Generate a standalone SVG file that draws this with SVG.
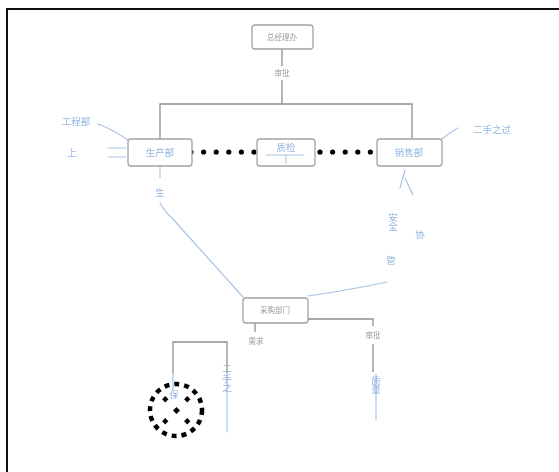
<svg xmlns="http://www.w3.org/2000/svg" width="559" height="472" viewBox="0 0 559 472">
  <style>
    .box { fill: #ffffff; stroke: #a3a3a3; stroke-width: 1.3; }
    .wire { fill: none; stroke: #8f8f8f; stroke-width: 1.3; }
    .ink { fill: none; stroke: #a9c3e6; stroke-width: 1.2; stroke-linecap: round; }
    .lbl { font-family: "Noto Sans CJK SC", "Noto Sans", sans-serif; font-size: 7.5px; fill: #9a9a9a; text-anchor: middle; }
    .hand { font-family: "Noto Sans CJK SC", "Noto Sans", sans-serif; font-size: 9.5px; fill: #93b6e2; text-anchor: middle; }
    .dots { fill: none; stroke: #000000; stroke-width: 5.2; stroke-linecap: round; stroke-dasharray: 0 12.6; }
  </style>
  <defs>
    <filter id="soft" x="-10%" y="-10%" width="120%" height="120%">
      <feGaussianBlur stdDeviation="0.55"/>
    </filter>
  </defs>

  <rect x="0" y="0" width="559" height="472" fill="#ffffff"/>
  <!-- page frame -->
  <rect x="7" y="9" width="560" height="470" fill="none" stroke="#111111" stroke-width="2"/>

  <g filter="url(#soft)">
    <!-- connectors -->
    <g id="connectors">
      <path class="wire" d="M282 49 V66 M282 80 V104"/>
      <path class="wire" d="M160 139 V104 H412 V139"/>
      <path class="wire" d="M255 323 V332"/>
      <path class="wire" d="M308 319 H373 V326 M373 344 V372"/>
      <path class="wire" d="M173 373 V342 H227 V373"/>
      <path class="dots" d="M191 152 H256"/>
      <path class="dots" d="M320 152 H372"/>
      <!-- handwritten links -->
      <path class="ink" d="M160 167 V178 M160 203 Q165 212 172 218 L243 297"/>
      <path class="ink" d="M405 170 L400 188 M405 178 L413 195 M387 282 Q350 290 308 296"/>
      <path class="ink" d="M98 124 Q110 128 128 140 M108 148 H126 M108 157 H126"/>
      <path class="ink" d="M442 139 Q450 132 458 128"/>
      <path class="ink" d="M173 373 V390 M227 373 V432"/>
      <path class="ink" d="M376 374 V420"/>
    </g>

    <g id="top-node">
      <rect class="box" x="252" y="25" width="61" height="24" rx="3"/>
      <text class="lbl" x="282" y="40">总经理办</text>
      <text class="lbl" x="282" y="76" font-size="7">审批</text>
    </g>

    <g id="left-node">
      <rect class="box" x="128" y="139" width="64" height="27" rx="3"/>
      <text class="hand" x="160" y="156">生产部</text>
    </g>

    <g id="middle-node">
      <rect class="box" x="257" y="139" width="58" height="27" rx="3"/>
      <text class="hand" x="286" y="151" font-size="9">质检</text>
      <path class="ink" d="M266 155 H304 M286 155 V163"/>
    </g>

    <g id="right-node">
      <rect class="box" x="377" y="139" width="65" height="27" rx="3"/>
      <text class="hand" x="409" y="156">销售部</text>
    </g>

    <g id="bottom-node">
      <rect class="box" x="243" y="298" width="65" height="25" rx="3"/>
      <text class="lbl" x="275" y="313">采购部门</text>
      <text class="lbl" x="256" y="344" font-size="7">需求</text>
      <text class="lbl" x="373" y="338" font-size="7">审批</text>
    </g>

    <!-- handwritten notes -->
    <g id="notes">
      <text class="hand" x="76" y="125">工程部</text>
      <text class="hand" x="72" y="156">上</text>
      <text class="hand" x="492" y="133">二手之过</text>
      <text class="hand" x="160" y="196">生</text>
      <text class="hand" x="393" y="222" writing-mode="tb">安全</text>
      <text class="hand" x="420" y="238">协</text>
      <text class="hand" x="391" y="264">管</text>
      <text class="hand" x="227" y="378" writing-mode="tb">二手之</text>
      <text class="hand" x="376" y="385" writing-mode="tb">质量</text>
      <text class="hand" x="174" y="398">保</text>
    </g>

    <!-- dotted marker -->
    <g id="marker">
      <circle cx="176" cy="410" r="26" fill="none" stroke="#000000" stroke-width="4.5" stroke-dasharray="5 5"/>
      <g fill="#000000">
        <rect x="163" y="397" width="4.5" height="4.5" transform="rotate(45 165.25 399.25)"/>
        <rect x="185" y="397" width="4.5" height="4.5" transform="rotate(45 187.25 399.25)"/>
        <rect x="174" y="408" width="5" height="5" transform="rotate(45 176.5 410.5)"/>
        <rect x="163" y="419" width="4.5" height="4.5" transform="rotate(45 165.25 421.25)"/>
        <rect x="185" y="419" width="4.5" height="4.5" transform="rotate(45 187.25 421.25)"/>
      </g>
    </g>
  </g>
</svg>
